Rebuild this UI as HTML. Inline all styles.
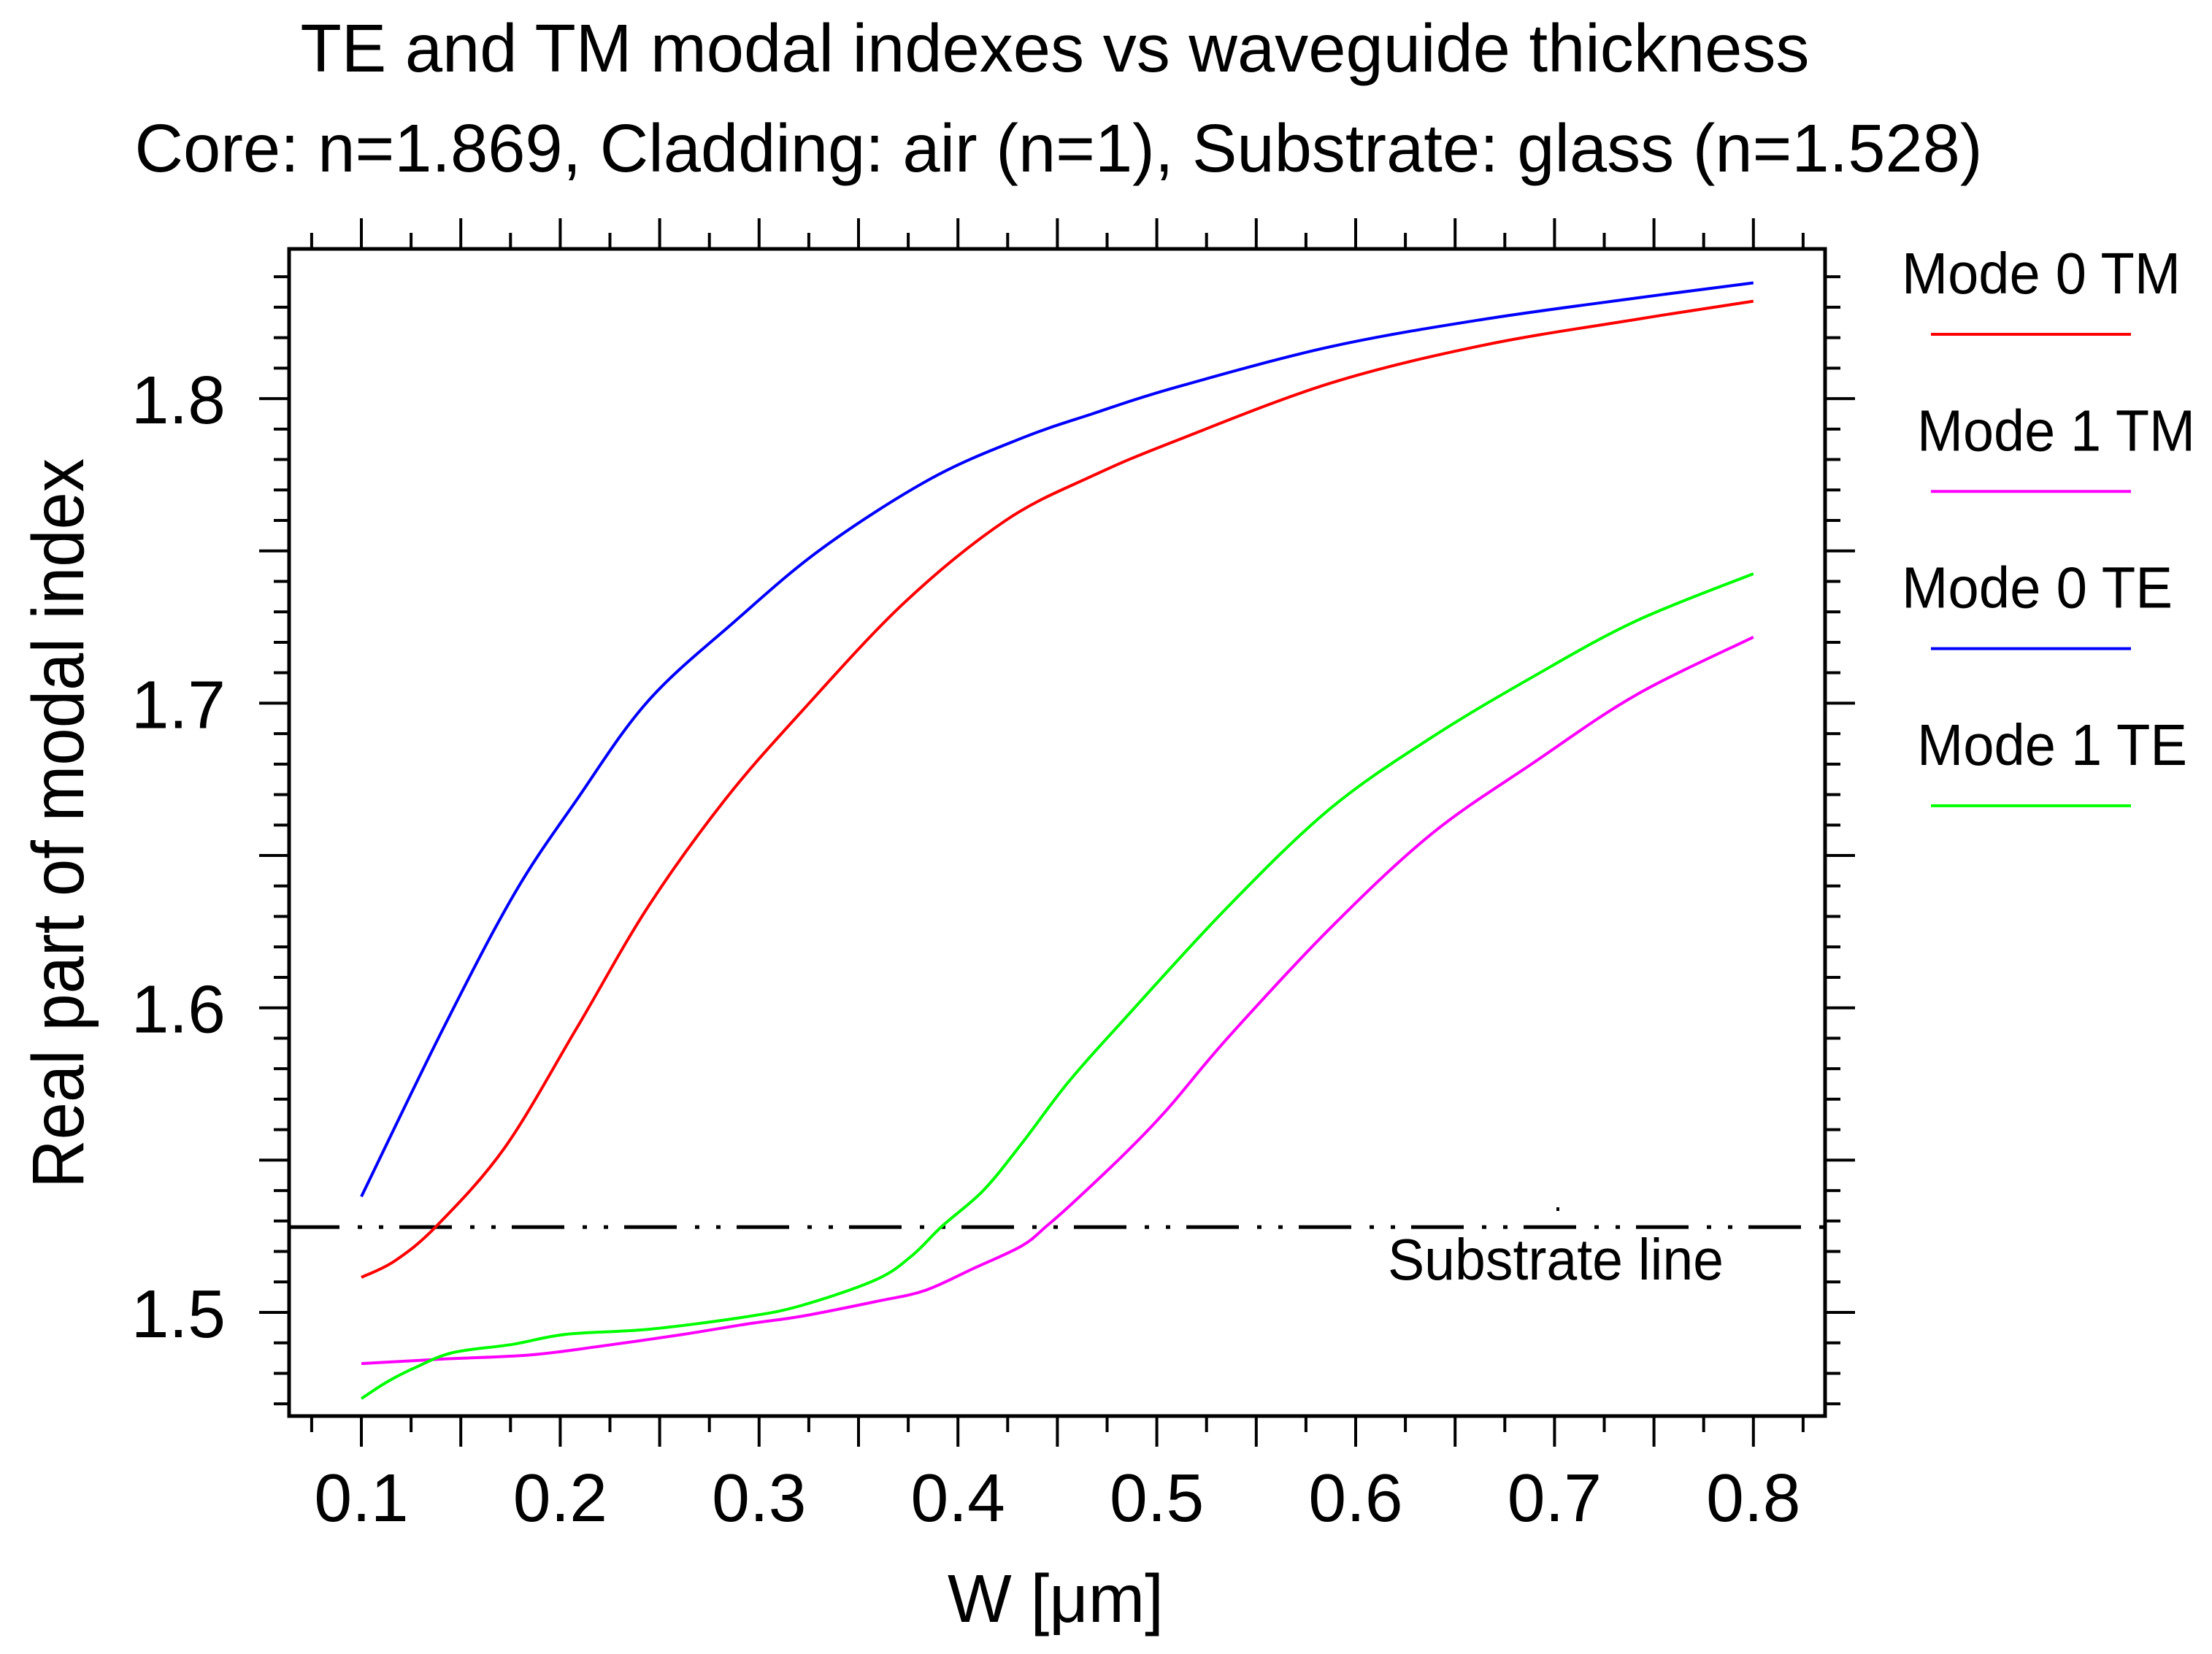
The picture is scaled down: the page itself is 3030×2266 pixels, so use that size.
<!DOCTYPE html>
<html><head><meta charset="utf-8"><style>
html,body{margin:0;padding:0;background:#fff;}
svg{display:block;font-family:"Liberation Sans",Arial,sans-serif;}
</style></head><body>
<svg id="chart" width="3030" height="2266" viewBox="0 0 3030 2266" xmlns="http://www.w3.org/2000/svg">
<rect x="0" y="0" width="3030" height="2266" fill="#fff"/>
<text x="1445" y="98" font-size="93" text-anchor="middle" textLength="2067" lengthAdjust="spacingAndGlyphs">TE and TM modal indexes vs waveguide thickness</text>
<text x="1450" y="235" font-size="93" text-anchor="middle" textLength="2531" lengthAdjust="spacingAndGlyphs">Core: n=1.869, Cladding: air (n=1), Substrate: glass (n=1.528)</text>
<g id="ticks"></g>
<g id="series"></g>
<rect x="396" y="341" width="2104" height="1599" fill="none" stroke="#000" stroke-width="5"/>
<text x="1901" y="1753" font-size="80" textLength="460" lengthAdjust="spacingAndGlyphs">Substrate line</text>
<rect x="2132" y="1654" width="4" height="5" fill="#000"/>
<text x="1446" y="2222" font-size="93" text-anchor="middle" textLength="296" lengthAdjust="spacingAndGlyphs">W [μm]</text>
<text transform="translate(114,1128) rotate(-90)" x="0" y="0" font-size="100" text-anchor="middle" textLength="1000" lengthAdjust="spacingAndGlyphs">Real part of modal index</text>
<g id="legend"></g>
</svg>
<script>
const xTickLabels = ["0.1","0.2","0.3","0.4","0.5","0.6","0.7","0.8"];
const yTickLabels = ["1.5","1.6","1.7","1.8"];
const substrateIndex = 1.528;
const seriesNames = ["Mode 0 TM","Mode 1 TM","Mode 0 TE","Mode 1 TE"];
const seriesColors = ["#ff0000","#ff00ff","#0000ff","#00ff00"];
const tm0X = [0.1,0.117,0.138,0.172,0.208,0.244,0.2825,0.321,0.373,0.424,0.4675,0.509,0.587,0.664,0.741,0.8];
const tm0Y = [1.5115,1.517,1.5285,1.554,1.593,1.633,1.668,1.697,1.733,1.760,1.7746,1.786,1.805,1.8175,1.826,1.832];
const tm1X = [0.1,0.142,0.1845,0.218,0.26,0.294,0.322,0.359,0.3834,0.4077,0.432,0.4445,0.457,0.4837,0.5057,0.5355,0.587,0.638,0.69,0.741,0.8];
const tm1Y = [1.4832,1.4847,1.486,1.4887,1.4926,1.4962,1.4988,1.5036,1.5072,1.5144,1.5218,1.5283,1.5355,1.552,1.567,1.590,1.626,1.657,1.6807,1.7027,1.7217];
const te0X = [0.1,0.141,0.177,0.208,0.244,0.288,0.332,0.386,0.432,0.4675,0.509,0.587,0.664,0.741,0.8];
const te0Y = [1.538,1.593,1.6375,1.668,1.7006,1.727,1.751,1.7736,1.787,1.795,1.8036,1.817,1.826,1.833,1.838];
const te1X = [0.1,0.113,0.1275,0.146,0.176,0.203,0.245,0.294,0.322,0.359,0.377,0.392,0.4127,0.432,0.4554,0.4837,0.5355,0.587,0.638,0.69,0.741,0.8];
const te1Y = [1.4717,1.4772,1.482,1.4868,1.4895,1.4928,1.4945,1.4986,1.5024,1.5108,1.5187,1.5283,1.540,1.5554,1.5755,1.5963,1.633,1.6653,1.6887,1.709,1.727,1.7425];

const NS = "http://www.w3.org/2000/svg";
const L = 396, R = 2500, T = 341, B = 1940;
function sx(v){ return 495 + (v - 0.1) * 2724; }
function sy(v){ return 1798 - (v - 1.5) * 4173; }
function mk(tag, attrs, parent){
  const e = document.createElementNS(NS, tag);
  for (const k in attrs) e.setAttribute(k, attrs[k]);
  parent.appendChild(e);
  return e;
}
function smoothPath(pts){
  let d = 'M' + pts[0][0].toFixed(1) + ',' + pts[0][1].toFixed(1);
  for (let i = 0; i < pts.length - 1; i++) {
    const p0 = pts[Math.max(0, i-1)], p1 = pts[i], p2 = pts[i+1], p3 = pts[Math.min(pts.length-1, i+2)];
    const c1x = p1[0] + (p2[0]-p0[0])/6, c1y = p1[1] + (p2[1]-p0[1])/6;
    const c2x = p2[0] - (p3[0]-p1[0])/6, c2y = p2[1] - (p3[1]-p1[1])/6;
    d += ' C' + c1x.toFixed(1) + ',' + c1y.toFixed(1) + ' ' + c2x.toFixed(1) + ',' + c2y.toFixed(1) + ' ' + p2[0].toFixed(1) + ',' + p2[1].toFixed(1);
  }
  return d;
}
const ticks = document.getElementById('ticks');
for (let i = 0; i <= 30; i++) {
  const v = 0.075 + i * 0.025;
  if (v > 0.826) break;
  const major = (Math.round(v * 1000) % 50) === 0;
  const len = major ? 42 : 22;
  const x = sx(v);
  const b = mk('line', {x1:x, y1:B, x2:x, y2:B+len, stroke:'#000', 'stroke-width':4}, ticks);
  
  
  const t = mk('line', {x1:x, y1:T, x2:x, y2:T-len, stroke:'#000', 'stroke-width':4}, ticks);
  
  
}
for (let i = 0; i <= 40; i++) {
  const v = 1.47 + i * 0.01;
  if (v > 1.8401) break;
  const major = (Math.round(v * 100) % 5) === 0;
  const len = major ? 41 : 21;
  const y = sy(v);
  const l = mk('line', {x1:L, y1:y, x2:L-len, y2:y, stroke:'#000', 'stroke-width':4}, ticks);
  
  
  const r = mk('line', {x1:R, y1:y, x2:R+len, y2:y, stroke:'#000', 'stroke-width':4}, ticks);
  
  
}
xTickLabels.forEach(s => {
  const t = mk('text', {x:sx(parseFloat(s)), y:2084, 'font-size':93, 'text-anchor':'middle'}, ticks);
  
  
  t.textContent = s;
});
yTickLabels.forEach(s => {
  const t = mk('text', {x:309, y:sy(parseFloat(s)) + 34, 'font-size':93, 'text-anchor':'end'}, ticks);
  
  
  t.textContent = s;
});
const series = document.getElementById('series');
const sub = mk('line', {x1:L, y1:sy(substrateIndex), x2:R, y2:sy(substrateIndex), stroke:'#000', 'stroke-width':5, 'stroke-dasharray':'72 25 6 23 6 22', 'stroke-dashoffset':'3'}, series);


const data = [[tm0X,tm0Y],[tm1X,tm1Y],[te0X,te0Y],[te1X,te1Y]];
const ids = ['mode-0-tm-line','mode-1-tm-line','mode-0-te-line','mode-1-te-line'];
data.forEach((d, i) => {
  const pts = d[0].map((x, j) => [sx(x), sy(d[1][j])]);
  const p = mk('path', {d:smoothPath(pts), fill:'none', stroke:seriesColors[i], 'stroke-width':4, 'stroke-linejoin':'round'}, series);
  
  
});
const legend = document.getElementById('legend');
const legX = [2605, 2626, 2605, 2626];
const legW = [382, 381, 371, 370];
seriesNames.forEach((n, i) => {
  const base = 402 + i * 215.3;
  const t = mk('text', {x:legX[i], y:base, 'font-size':80, textLength:legW[i], lengthAdjust:'spacingAndGlyphs'}, legend);
  
  
  t.textContent = n;
  const ln = mk('line', {x1:2645, y1:base + 56, x2:2919, y2:base + 56, stroke:seriesColors[i], 'stroke-width':4}, legend);
  
  
});
</script>
</body></html>
